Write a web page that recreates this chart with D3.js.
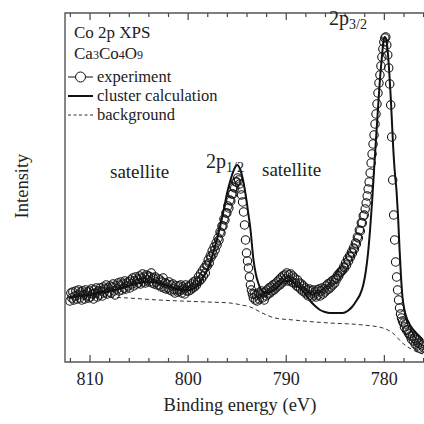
<!DOCTYPE html>
<html>
<head>
<meta charset="utf-8">
<script src="https://cdn.jsdelivr.net/npm/d3@7"></script>
<style>
  body { margin: 0; background: #fff; }
  svg text { font-family: "Liberation Serif", "DejaVu Serif", serif; fill: #222; }
</style>
</head>
<body>
<svg id="chart" width="424" height="424"></svg>
<script>
/* DATA */
// x axis ticks (binding energy, eV)
const majorTicks = [810, 800, 790, 780];
const minorTicks = [812, 808, 806, 804, 802, 798, 796, 794, 792, 788, 786, 784, 782, 778, 776];

// experiment: measured every 0.1 eV from 812.0 eV down to 776.0 eV
const expStart = 812.0, expStep = 0.1;
const expIntensity = [
  61, 69, 64, 70, 62, 66, 71, 63, 67, 72,
  64, 70, 62, 71, 67, 63, 72, 66, 70, 64,
  71, 65, 73, 68, 63, 72, 69, 74, 65, 71,
  67, 74, 71, 66, 75, 70, 73, 77, 68, 74,
  70, 76, 69, 75, 78, 71, 67, 76, 73, 79,
  71, 77, 80, 72, 78, 74, 81, 73, 79, 76,
  80, 74, 82, 78, 84, 76, 81, 85, 78, 83,
  79, 86, 78, 84, 88, 80, 85, 79, 87, 82,
  86, 80, 85, 89, 79, 84, 78, 85, 80, 77,
  83, 77, 82, 75, 80, 84, 74, 79, 73, 78,
  74, 80, 72, 77, 71, 78, 73, 69, 76, 72,
  70, 76, 71, 77, 69, 75, 73, 68, 77, 71,
  75, 71, 76, 72, 78, 74, 80, 75, 81, 77,
  80, 85, 81, 88, 83, 91, 86, 94, 89, 97,
  96, 102, 99, 106, 105, 111, 108, 115, 112, 119,
  117, 124, 122, 130, 129, 136, 136, 143, 142, 149,
  149, 156, 154, 162, 161, 168, 168, 175, 174, 180,
  180, 184, 182, 178, 173, 167, 160, 150, 137, 122,
  109, 101, 94, 85, 77, 72, 68, 64, 68, 62,
  67, 61, 69, 63, 68, 71, 64, 69, 62, 70,
  66, 72, 68, 74, 69, 75, 71, 77, 72, 78,
  74, 80, 76, 82, 77, 84, 79, 86, 81, 87,
  83, 89, 81, 87, 82, 88, 80, 86, 79, 84,
  79, 76, 82, 75, 79, 73, 78, 71, 76, 70,
  74, 68, 72, 66, 73, 67, 71, 65, 72, 67,
  70, 65, 72, 67, 73, 66, 71, 74, 68, 73,
  70, 76, 72, 78, 73, 79, 75, 81, 77, 82,
  79, 84, 83, 87, 86, 89, 90, 91, 92, 95,
  94, 99, 97, 103, 101, 106, 105, 110, 109, 114,
  113, 119, 118, 125, 124, 132, 131, 139, 139, 146,
  147, 153, 159, 166, 173, 180, 189, 199, 208, 218,
  227, 238, 248, 258, 269, 279, 287, 296, 305, 313,
  320, 324, 325, 317, 307, 294, 278, 257, 225, 182,
  147, 122, 100, 85, 72, 62, 54, 48, 44, 41,
  39, 35, 38, 32, 32, 29, 28, 26, 23, 26,
  21, 24, 18, 22, 16, 19, 14, 18, 13, 17,
  15
];

// cluster calculation [energy, intensity]
const calcCurve = [
  [812.1, 64], [811, 66], [810, 67], [809, 69], [808, 71], [807, 73], [806, 76],
  [805, 79], [804, 80], [803, 79], [802, 76], [801, 73], [800, 72], [799.5, 73],
  [799, 76], [798.5, 83], [798, 92], [797.4, 109], [796.7, 135], [796.3, 153],
  [796, 168], [795.6, 183], [795.2, 194], [794.95, 197], [794.7, 194], [794.4, 184],
  [794.1, 168], [793.85, 151], [793.6, 133], [793.3, 103], [793.05, 88], [792.8, 79],
  [792.3, 70], [791.9, 69], [791.5, 70], [791, 73], [790.5, 78], [790, 81],
  [789.5, 81], [789, 77], [788.5, 73], [788, 68], [787.5, 61], [787, 56],
  [786.5, 52], [786, 50], [785.5, 49], [784.8, 49], [784.2, 49], [783.7, 51],
  [783.25, 55], [782.75, 62], [782.4, 68], [782.1, 77], [781.85, 90], [781.6, 110],
  [781.4, 133], [781.2, 160], [781.0, 192], [780.8, 223], [780.6, 253], [780.4, 282],
  [780.2, 305], [780.05, 320], [779.9, 325], [779.75, 322], [779.6, 310], [779.45, 290],
  [779.3, 265], [779.15, 235], [779.05, 215], [778.9, 192], [778.7, 170], [778.55, 145],
  [778.4, 113], [778.25, 85], [778.1, 65], [777.9, 52], [777.6, 42], [777.2, 35],
  [776.8, 30], [776.4, 26], [776, 22]
];

// background [energy, intensity]
const bgCurve = [
  [812.2, 65], [809, 65], [806.1, 64], [803, 62], [800.7, 61], [798, 60], [795.7, 59],
  [794.5, 57], [793.6, 55], [792.6, 50], [791.1, 44], [789.2, 42], [787, 40],
  [785.5, 39], [782.1, 37], [780.1, 34], [779.1, 29], [778.1, 19], [776.6, 10], [776.0, 8]
];

/* LAYOUT */
const width = 424, height = 424;
const plot = { left: 65, right: 428, top: 13, bottom: 362 };

const svg = d3.select("#chart");

const xScale = d3.scaleLinear()
  .domain([812.5, 775.5])
  .range([plot.left, plot.right]);

const yScale = d3.scaleLinear()
  .domain([0, 349])
  .range([plot.bottom, plot.top]);

const expData = expIntensity.map((v, i) => [expStart - i * expStep, v]);

const line = d3.line()
  .x(d => xScale(d[0]))
  .y(d => yScale(d[1]))
  .curve(d3.curveMonotoneX);

// background (dashed)
svg.append("path")
  .datum(bgCurve)
  .attr("d", line)
  .attr("fill", "none")
  .attr("stroke", "#333")
  .attr("stroke-width", 1)
  .attr("stroke-dasharray", "4,3");

// experiment circles
svg.append("g")
  .selectAll("circle")
  .data(expData)
  .join("circle")
  .attr("cx", d => xScale(d[0]))
  .attr("cy", d => yScale(d[1]))
  .attr("r", 4.2)
  .attr("fill", "none")
  .attr("stroke", "#151515")
  .attr("stroke-width", 1.1);

// cluster calculation
svg.append("path")
  .datum(calcCurve)
  .attr("d", line)
  .attr("fill", "none")
  .attr("stroke", "#111")
  .attr("stroke-width", 2);

/* AXES */
const bottomMajor = d3.axisBottom(xScale).tickValues(majorTicks).tickSize(-7).tickPadding(10).tickSizeOuter(0);
const bottomMinor = d3.axisBottom(xScale).tickValues(minorTicks).tickSize(-4).tickFormat("").tickSizeOuter(0);
const topMajor = d3.axisTop(xScale).tickValues(majorTicks).tickSize(-7).tickFormat("").tickSizeOuter(0);
const topMinor = d3.axisTop(xScale).tickValues(minorTicks).tickSize(-4).tickFormat("").tickSizeOuter(0);

[[bottomMajor, plot.bottom], [bottomMinor, plot.bottom], [topMajor, plot.top], [topMinor, plot.top]]
  .forEach(([ax, yPos]) => {
    const g = svg.append("g").attr("transform", `translate(0,${yPos})`).call(ax);
    g.attr("font-family", "Liberation Serif, serif");
    g.select(".domain").remove();
    g.selectAll("line").attr("stroke", "#444").attr("stroke-width", 1.2);
    g.selectAll("text").attr("font-size", 18).attr("fill", "#222");
  });

// frame (left, top, bottom)
svg.append("path")
  .attr("d", `M${width},${plot.top}H${plot.left}V${plot.bottom}H${width}`)
  .attr("fill", "none")
  .attr("stroke", "#555")
  .attr("stroke-width", 1.4);

/* LABELS */
svg.append("text")
  .attr("x", 240).attr("y", 411)
  .attr("text-anchor", "middle")
  .attr("font-size", 18.5)
  .text("Binding energy (eV)");

svg.append("text")
  .attr("transform", "translate(28,186) rotate(-90)")
  .attr("text-anchor", "middle")
  .attr("font-size", 18.5)
  .text("Intensity");

svg.append("text").attr("x", 74).attr("y", 38).attr("font-size", 17).text("Co 2p XPS");

const formula = svg.append("text").attr("x", 74).attr("y", 59).attr("font-size", 17);
[["Ca", false], ["3", true], ["Co", false], ["4", true], ["O", false], ["9", true]].forEach(([t, sub]) => {
  formula.append("tspan")
    .attr("font-size", sub ? 12 : 17)
    .text(t);
});

// legend
const legendRows = ["experiment", "cluster calculation", "background"];
const legendY = [77, 96, 115];
legendRows.forEach((label, i) => {
  const yy = legendY[i];
  const l = svg.append("line")
    .attr("x1", 68).attr("x2", 93).attr("y1", yy).attr("y2", yy)
    .attr("stroke", "#111");
  if (i === 0) {
    l.attr("stroke-width", 1);
    svg.append("circle").attr("cx", 80.5).attr("cy", yy).attr("r", 5)
      .attr("fill", "#fff").attr("stroke", "#111").attr("stroke-width", 1);
  } else if (i === 1) {
    l.attr("stroke-width", 2);
  } else {
    l.attr("stroke-width", 1).attr("stroke-dasharray", "3,2.5").attr("stroke", "#333");
  }
  svg.append("text").attr("x", 97).attr("y", yy + 5).attr("font-size", 16.5).text(label);
});

// peak annotations
function peakLabel(x, y, sub) {
  const t = svg.append("text").attr("x", x).attr("y", y).attr("font-size", 20);
  t.append("tspan").text("2p");
  t.append("tspan").attr("font-size", 14).attr("dy", 4).text(sub);
}
peakLabel(329, 25, "3/2");
peakLabel(206, 168, "1/2");

svg.append("text").attr("x", 110).attr("y", 178).attr("font-size", 19).text("satellite");
svg.append("text").attr("x", 262).attr("y", 176).attr("font-size", 19).text("satellite");
</script>
</body>
</html>
